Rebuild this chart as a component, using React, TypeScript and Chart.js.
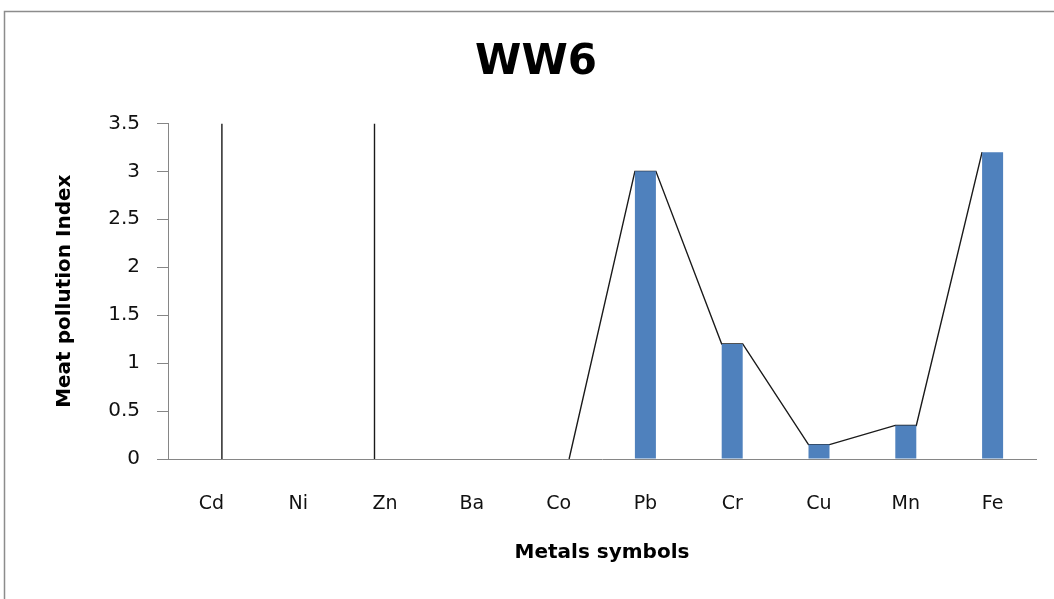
import React, { useEffect, useRef } from 'react';
import { Chart, registerables } from 'chart.js';

Chart.register(...registerables);

// ---- data ----
const categories = ['Cd', 'Ni', 'Zn', 'Ba', 'Co', 'Pb', 'Cr', 'Cu', 'Mn', 'Fe'];
const pollutionIndex = [0, 0, 0, 0, 0, 3.0, 1.2, 0.15, 0.35, 3.2];
const yTickValues = [0, 0.5, 1, 1.5, 2, 2.5, 3, 3.5];
// off-scale spikes drawn by the connecting line (edge: +1 right side of bar, -1 left side)
const spikeCategories = ['Cd', 'Zn'];
const spikeEdges = [1, -1];
const spikeTop = 3.5;
const trendStartCategory = 'Co';

const BAR_FRACTION = 0.242;
const FONT = "'DejaVu Sans', 'Open Sans', sans-serif";

function buildLine() {
  const hw = BAR_FRACTION / 2;
  const pts: { x: number; y: number | null }[] = [];
  spikeCategories.forEach((c, k) => {
    const i = categories.indexOf(c);
    const x = i + spikeEdges[k] * hw;
    pts.push({ x, y: 0 }, { x, y: spikeTop }, { x, y: null });
  });
  const s = categories.indexOf(trendStartCategory);
  pts.push({ x: s + hw, y: pollutionIndex[s] });
  for (let i = s + 1; i < categories.length; i++) {
    pts.push({ x: i - hw, y: pollutionIndex[i] });
    if (i < categories.length - 1) pts.push({ x: i + hw, y: pollutionIndex[i] });
  }
  return pts;
}

const frame = {
  id: 'frame',
  beforeDraw(chart: any) {
    const { ctx, width, height } = chart;
    ctx.save();
    ctx.fillStyle = '#ffffff';
    ctx.fillRect(0, 0, width, height);
    ctx.strokeStyle = '#8c8c8c';
    ctx.lineWidth = 1.5;
    ctx.strokeRect(4.5, 11.5, width + 20, height + 20);
    ctx.restore();
  },
};

export default function App() {
  const ref = useRef<HTMLCanvasElement>(null);
  useEffect(() => {
    if (!ref.current) return;
    const chart = new Chart(ref.current, {
      type: 'bar',
      data: {
        labels: categories,
        datasets: [
          {
            type: 'bar',
            label: 'Meat pollution Index',
            data: pollutionIndex,
            backgroundColor: '#4F81BD',
            borderWidth: 0,
            barPercentage: 1,
            categoryPercentage: BAR_FRACTION,
            grouped: false,
            order: 0,
            xAxisID: 'x',
            yAxisID: 'y',
          } as any,
          {
            type: 'line',
            label: 'trend',
            data: buildLine() as any,
            borderColor: '#1a1a1a',
            borderWidth: 1.4,
            pointRadius: 0,
            fill: false,
            spanGaps: false,
            tension: 0,
            order: 1,
            xAxisID: 'x2',
            yAxisID: 'y',
          } as any,
        ],
      },
      options: {
        animation: false,
        responsive: false,
        events: [],
        layout: { padding: { left: 18, right: 0, top: 0, bottom: 0 } },
        plugins: {
          legend: { display: false },
          tooltip: { enabled: false },
          title: {
            display: true,
            text: 'WW6',
            color: '#000',
            font: { family: FONT, size: 42, weight: 'bold' },
            padding: { top: 38, bottom: 35 },
          },
        },
        scales: {
          x: {
            type: 'category',
            offset: true,
            grid: { display: false },
            border: { display: true, color: '#868686', width: 1 },
            ticks: { color: '#111', font: { family: FONT, size: 19 }, padding: 26, maxRotation: 0 },
            title: {
              display: true,
              text: 'Metals symbols',
              color: '#000',
              font: { family: FONT, size: 20, weight: 'bold' },
              padding: { top: 0, bottom: 34 },
            },
            afterFit: (s: any) => {
              s.height = 140;
            },
          },
          x2: {
            type: 'linear',
            display: false,
            offset: false,
            min: -0.5,
            max: categories.length - 0.5,
          },
          y: {
            type: 'linear',
            min: 0,
            max: 3.5,
            afterBuildTicks: (s: any) => {
              s.ticks = yTickValues.map((v) => ({ value: v }));
            },
            grid: { display: true, drawOnChartArea: false, drawTicks: true, tickLength: 11, color: '#868686' },
            border: { display: true, color: '#868686', width: 1 },
            ticks: {
              color: '#111',
              font: { family: FONT, size: 20 },
              padding: 17,
              callback: (v: any) => String(v),
            },
            title: {
              display: true,
              text: 'Meat pollution Index',
              color: '#000',
              font: { family: FONT, size: 20, weight: 'bold' },
              padding: { top: 35, bottom: 0 },
            },
            afterFit: (s: any) => {
              s.width = 150;
            },
          },
          yRight: {
            type: 'linear',
            position: 'right',
            display: true,
            grid: { display: false },
            border: { display: false },
            ticks: { display: false },
            afterFit: (s: any) => {
              s.width = 18;
            },
          },
        },
      },
      plugins: [frame],
    });
    return () => chart.destroy();
  }, []);
  return (
    <div style={{ position: 'fixed', left: 0, top: 0, width: 1054, height: 599 }}>
      <canvas ref={ref} width={1054} height={599} style={{ display: 'block', width: 1054, height: 599 }} />
    </div>
  );
}
